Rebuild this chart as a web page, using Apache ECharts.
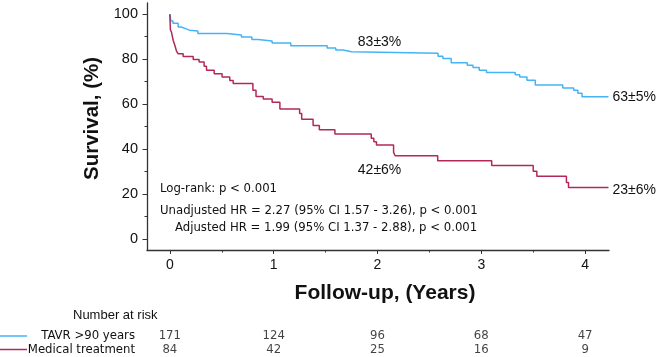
<!DOCTYPE html>
<html>
<head>
<meta charset="utf-8">
<script src="https://cdn.jsdelivr.net/npm/echarts@6/dist/echarts.min.js"></script>
<style>
  html, body { margin: 0; padding: 0; background: #fff; }
  #chart { width: 658px; height: 357px; }
</style>
</head>
<body>
<div id="chart"></div>
<script>
// Kaplan-Meier steps, TAVR >90 years
const tavrTime = [0, 0.01, 0.03, 0.08, 0.11, 0.15, 0.19, 0.27, 0.55, 0.69, 0.79, 0.85, 0.985, 1.165,
  1.515, 1.598, 1.668, 1.749, 2.583, 2.63, 2.71, 2.865, 2.92, 2.98, 3.05, 3.327, 3.37, 3.44, 3.52,
  3.785, 3.89, 3.93, 3.97, 4.225];
const tavrSurv = [100, 97, 96, 94.3, 93.6, 92.9, 92.5, 91.4, 90.8, 89.9, 88.7, 88.1, 87.2, 86.0,
  85.0, 84.1, 83.3, 82.6, 81.3, 80.3, 78.4, 77.3, 76.3, 75.1, 74.0, 73.1, 72.0, 70.6, 68.5,
  67.2, 66.1, 64.8, 63.2, 63.2];

// Kaplan-Meier steps, medical treatment
const medTime = [0, 0.005, 0.015, 0.032, 0.048, 0.064, 0.08, 0.128, 0.225, 0.282, 0.33, 0.353, 0.427,
  0.503, 0.577, 0.61, 0.80, 0.83, 0.90, 0.985, 1.06, 1.25, 1.27, 1.38, 1.44, 1.59, 1.94, 1.965, 1.99,
  2.155, 2.17, 2.58, 3.10, 3.50, 3.535, 3.82, 3.84, 4.225];
const medSurv = [100, 93.2, 92.1, 88.4, 86.2, 83.6, 82.4, 81.2, 79.8, 78.7, 76.8, 75.0, 73.5,
  72.0, 70.5, 69.2, 66.1, 63.4, 62.2, 60.8, 57.8, 55.8, 53.2, 50.4, 48.5, 46.7, 44.8, 43.2, 41.8,
  38.5, 37.0, 34.7, 32.6, 30.1, 27.8, 25.1, 22.8, 22.8];

// number at risk
const riskTimes = [0, 1, 2, 3, 4];
const riskTavr = [171, 124, 96, 68, 47];
const riskMed = [84, 42, 25, 16, 9];
const groupNames = ['TAVR >90 years', 'Medical treatment'];

const yMajor = [0, 20, 40, 60, 80, 100];
const yMinor = [10, 30, 50, 70, 90];
const xMajor = [0, 1, 2, 3, 4];
const xMinor = [0.5, 1.5, 2.5, 3.5];

const blue = '#45B4F6';
const red = '#B3285B';
const axisColor = '#333';
const condensed = '"DejaVu Sans Condensed", "DejaVu Sans", sans-serif';

const zip = (xs, ys) => xs.map((x, i) => [x, ys[i]]);

const chart = echarts.init(document.getElementById('chart'));

const valueX = {
  type: 'value', min: -0.22, max: 4.23,
  splitLine: { show: false }
};
const valueY = {
  type: 'value', min: -5, max: 105,
  splitLine: { show: false }
};

const option = {
  animation: false,
  grid: [
    { left: 147, right: 49, top: 3, bottom: 107 },
    { left: 147, right: 49, top: 329, height: 28 }
  ],
  xAxis: [
    Object.assign({}, valueX, {
      gridIndex: 0,
      name: 'Follow-up, (Years)',
      nameLocation: 'middle',
      nameGap: 33,
      nameTextStyle: { fontFamily: 'Liberation Sans', fontWeight: 'bold', fontSize: 21, color: '#111', padding: [0, 0, 0, 14] },
      axisLine: { onZero: false, lineStyle: { color: axisColor, width: 1.3 } },
      axisTick: { length: 4, customValues: xMajor, lineStyle: { color: axisColor } },
      axisLabel: { customValues: xMajor, fontFamily: 'Liberation Sans', fontSize: 14, color: '#111', margin: 8 }
    }),
    Object.assign({}, valueX, {
      gridIndex: 0,
      position: 'bottom',
      axisLine: { show: false, onZero: false },
      axisTick: { length: 2.5, customValues: xMinor, lineStyle: { color: axisColor } },
      axisLabel: { show: false }
    }),
    Object.assign({}, valueX, { gridIndex: 1, show: false })
  ],
  yAxis: [
    Object.assign({}, valueY, {
      gridIndex: 0,
      name: 'Survival, (%)',
      nameLocation: 'middle',
      nameGap: 41,
      nameTextStyle: { fontFamily: 'Liberation Sans', fontWeight: 'bold', fontSize: 20.5, color: '#111', padding: [0, 0, 0, 16] },
      axisLine: { show: true, onZero: false, lineStyle: { color: axisColor, width: 1.3 } },
      axisTick: { show: true, length: 4.5, customValues: yMajor, lineStyle: { color: axisColor } },
      axisLabel: { customValues: yMajor, fontFamily: 'Liberation Sans', fontSize: 14.5, color: '#111', margin: 9 }
    }),
    Object.assign({}, valueY, {
      gridIndex: 0,
      position: 'left',
      axisLine: { show: false, onZero: false },
      axisTick: { show: true, length: 2.5, customValues: yMinor, lineStyle: { color: axisColor } },
      axisLabel: { show: false }
    }),
    {
      gridIndex: 1,
      type: 'category',
      data: groupNames,
      inverse: true,
      axisLine: { show: false },
      axisTick: { show: false },
      axisLabel: { interval: 0, fontFamily: condensed, fontSize: 13, color: '#111', margin: 12 }
    }
  ],
  series: [
    {
      name: groupNames[0],
      type: 'line',
      step: 'end',
      xAxisIndex: 0, yAxisIndex: 0,
      symbol: 'none',
      data: zip(tavrTime, tavrSurv),
      lineStyle: { color: blue, width: 1.5 },
      markPoint: {
        symbolSize: 0,
        silent: true,
        data: [
          { coord: [2.02, 87.6], label: { show: true, position: 'inside', formatter: '83±3%' } },
          { coord: [4.225, 63.2], label: { show: true, position: 'right', distance: 4, formatter: '63±5%' } }
        ],
        label: { fontFamily: 'Liberation Sans', fontSize: 14, color: '#111' }
      }
    },
    {
      name: groupNames[1],
      type: 'line',
      step: 'end',
      xAxisIndex: 0, yAxisIndex: 0,
      symbol: 'none',
      data: zip(medTime, medSurv),
      lineStyle: { color: red, width: 1.5 },
      markPoint: {
        symbolSize: 0,
        silent: true,
        data: [
          { coord: [2.02, 30.7], label: { show: true, position: 'inside', formatter: '42±6%' } },
          { coord: [4.225, 21.8], label: { show: true, position: 'right', distance: 4, formatter: '23±6%' } }
        ],
        label: { fontFamily: 'Liberation Sans', fontSize: 14, color: '#111' }
      }
    },
    {
      type: 'scatter',
      xAxisIndex: 2, yAxisIndex: 2,
      symbolSize: 0,
      silent: true,
      data: riskTimes.map((t, i) => [t, groupNames[0], riskTavr[i]])
        .concat(riskTimes.map((t, i) => [t, groupNames[1], riskMed[i]])),
      label: {
        show: true, position: 'inside',
        formatter: p => p.value[2],
        fontFamily: condensed, fontSize: 13, color: '#111'
      }
    }
  ],
  graphic: [
    { type: 'text', left: 160, top: 182, style: { text: 'Log-rank: p < 0.001', font: '13px ' + condensed, fill: '#111' } },
    { type: 'text', left: 160, top: 204, style: { text: 'Unadjusted HR = 2.27 (95% CI 1.57 - 3.26), p < 0.001', font: '13px ' + condensed, fill: '#111' } },
    { type: 'text', left: 175, top: 221, style: { text: 'Adjusted HR = 1.99 (95% CI 1.37 - 2.88), p < 0.001', font: '13px ' + condensed, fill: '#111' } },
    { type: 'text', left: 73, top: 309, style: { text: 'Number at risk', font: '13px "Liberation Sans Narrow", "Liberation Sans", sans-serif', fill: '#111' } },
    { type: 'line', shape: { x1: 0, y1: 336, x2: 27, y2: 336 }, style: { stroke: blue, lineWidth: 1.5 } },
    { type: 'line', shape: { x1: 0, y1: 349.5, x2: 27, y2: 349.5 }, style: { stroke: red, lineWidth: 1.5 } }
  ]
};

chart.setOption(option);
</script>
</body>
</html>
